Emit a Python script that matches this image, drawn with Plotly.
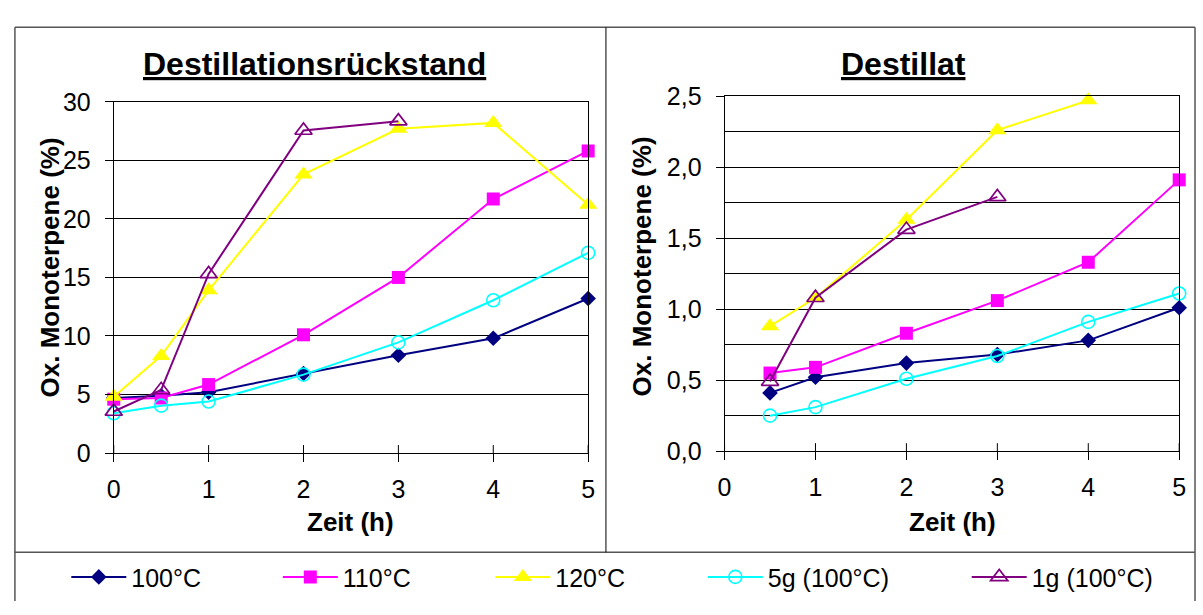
import plotly.graph_objects as go

# Oxidised monoterpenes over time — residue (left) and distillate (right)
series_names = ["100°C", "110°C", "120°C", "5g (100°C)", "1g (100°C)"]
series_colors = ["#000080", "#FF00FF", "#FFFF00", "#00FFFF", "#800080"]

# Destillationsrückstand
time_res = [0, 0.5, 1, 2, 3, 4, 5]
time_res_1g = [0, 0.5, 1, 2, 3]
res_100 = [4.7, 4.9, 5.2, 6.8, 8.35, 9.8, 13.2]
res_110 = [4.6, 4.7, 5.85, 10.1, 15.0, 21.7, 25.8]
res_120 = [4.8, 8.3, 13.9, 23.8, 27.7, 28.2, 21.2]
res_5g = [3.4, 4.05, 4.4, 6.7, 9.45, 13.05, 17.1]
res_1g = [3.55, 5.4, 15.3, 27.55, 28.35]

# Destillat
time_dst = [0.5, 1, 2, 3, 4, 5]
time_dst_1g = [0.5, 1, 2, 3]
dst_100 = [0.41, 0.52, 0.62, 0.68, 0.78, 1.01]
dst_110 = [0.55, 0.59, 0.83, 1.06, 1.33, 1.91]
dst_120 = [0.88, 1.08, 1.63, 2.26, 2.47, 4.2]
dst_5g = [0.25, 0.31, 0.51, 0.67, 0.91, 1.11]
dst_1g = [0.49, 1.08, 1.56, 1.79]

x_ticks = [0, 1, 2, 3, 4, 5]

FONT = "Liberation Sans, Arial, sans-serif"
W, H = 1203, 615

markers = [
    dict(symbol="diamond", size=12, color="#000080"),
    dict(symbol="square", size=13, color="#FF00FF"),
    dict(symbol="triangle-up", size=16, color="#FFFF00"),
    dict(symbol="circle-open", size=13, color="#00FFFF", line=dict(width=1.6)),
    dict(symbol="triangle-up-open", size=15, color="#800080", line=dict(width=1.7)),
]

res_sets = [(time_res, res_100), (time_res, res_110), (time_res, res_120),
            (time_res, res_5g), (time_res_1g, res_1g)]
dst_sets = [(time_dst, dst_100), (time_dst, dst_110), (time_dst, dst_120),
            (time_dst, dst_5g), (time_dst_1g, dst_1g)]

fig = go.Figure()
legend_ids = ["legend", "legend2", "legend3", "legend4", "legend5"]
for i, name in enumerate(series_names):
    xs, ys = res_sets[i]
    fig.add_trace(go.Scatter(
        x=xs, y=ys, name=name, mode="lines+markers", cliponaxis=False,
        line=dict(color=series_colors[i], width=2), marker=markers[i],
        xaxis="x", yaxis="y", legend=legend_ids[i], showlegend=True))
for i, name in enumerate(series_names):
    xs, ys = dst_sets[i]
    fig.add_trace(go.Scatter(
        x=xs, y=ys, name=name, mode="lines+markers", cliponaxis=False,
        line=dict(color=series_colors[i], width=2), marker=markers[i],
        xaxis="x2", yaxis="y2", showlegend=False))

def px_x(p):
    return p / W

def px_y(p):
    return (H - p) / H

axis_common = dict(
    showline=True, linecolor="black", linewidth=1, mirror=True,
    ticks="outside", ticklen=8, tickcolor="black", tickwidth=1,
    tickfont=dict(family=FONT, size=25, color="black"),
    zeroline=False, fixedrange=True,
)

layout = dict(
    width=W, height=H, margin=dict(l=0, r=0, t=0, b=0),
    paper_bgcolor="white", plot_bgcolor="white",
    separators=",.",
    font=dict(family=FONT, color="black"),
    xaxis=dict(domain=[px_x(108), px_x(588)], range=[0, 5], tickvals=x_ticks,
               anchor="y", showgrid=False, ticklabelstandoff=6, **axis_common),
    yaxis=dict(domain=[px_y(460), px_y(92)], range=[0, 30], tickvals=[0, 5, 10, 15, 20, 25, 30],
               anchor="x", showgrid=True, gridcolor="black", gridwidth=1,
               ticklabelstandoff=9, **axis_common),
    xaxis2=dict(domain=[px_x(726), px_x(1186)], range=[0, 5], tickvals=x_ticks,
                anchor="y2", showgrid=False, ticklabelstandoff=6, **axis_common),
    yaxis2=dict(domain=[px_y(458), px_y(86)], range=[0, 2.5],
                tickvals=[0, 0.5, 1.0, 1.5, 2.0, 2.5], tickformat=".1f",
                anchor="x2", showgrid=True, gridcolor="black", gridwidth=1,
                ticklabelstandoff=9, **axis_common,
                minor=dict(dtick=0.25, showgrid=True, gridcolor="black", gridwidth=1, ticks="")),
)

# one single-entry legend per series, laid out along the bottom strip
legend_x = [60, 274, 489, 704, 971]
for lid, lx in zip(legend_ids, legend_x):
    layout[lid] = dict(
        x=px_x(lx), y=px_y(590), xanchor="left", yanchor="middle",
        orientation="h", bgcolor="rgba(0,0,0,0)", borderwidth=0,
        itemwidth=55, font=dict(family=FONT, size=25, color="black"),
    )

fig.update_layout(**layout)

shapes = []
# inner halves of the crossing x ticks
for xa, ya in (("x", "y"), ("x2", "y2")):
    for t in x_ticks:
        shapes.append(dict(type="line", xref=xa, yref=ya, x0=t, x1=t,
                           ysizemode="pixel", yanchor=0, y0=0, y1=8,
                           line=dict(color="black", width=1)))
# chart frame, panel divider and legend strip
frame = dict(color="#555555", width=1.5)
shapes += [
    dict(type="line", xref="paper", yref="paper", x0=px_x(8), x1=px_x(8), y0=0, y1=px_y(14), line=frame),
    dict(type="line", xref="paper", yref="paper", x0=px_x(8), x1=px_x(1202), y0=px_y(14), y1=px_y(14), line=frame),
    dict(type="line", xref="paper", yref="paper", x0=px_x(1202), x1=px_x(1202), y0=0, y1=px_y(14), line=frame),
    dict(type="line", xref="paper", yref="paper", x0=px_x(8), x1=px_x(1202), y0=px_y(564), y1=px_y(564), line=frame),
    dict(type="line", xref="paper", yref="paper", x0=px_x(606), x1=px_x(606), y0=px_y(564), y1=px_y(14),
         line=dict(color="black", width=1)),
]
fig.update_layout(shapes=shapes)

title_font = dict(family=FONT, size=32, color="black")
label_font = dict(family=FONT, size=26, color="black")
annotations = [
    dict(text="<b><u>Destillationsrückstand</u></b>", x=px_x(311), y=px_y(52), font=title_font),
    dict(text="<b><u>Destillat</u></b>", x=px_x(907), y=px_y(52), font=title_font),
    dict(text="<b>Ox. Monoterpene (%)</b>", x=px_x(43), y=px_y(265), textangle=-90, font=label_font),
    dict(text="<b>Ox. Monoterpene (%)</b>", x=px_x(642), y=px_y(265), textangle=-90, font=label_font),
    dict(text="<b>Zeit (h)</b>", x=px_x(348), y=px_y(532), font=label_font),
    dict(text="<b>Zeit (h)</b>", x=px_x(957), y=px_y(532), font=label_font),
]
for a in annotations:
    a.update(xref="paper", yref="paper", showarrow=False, xanchor="center", yanchor="middle")
fig.update_layout(annotations=annotations)

fig.write_html("out.html")
